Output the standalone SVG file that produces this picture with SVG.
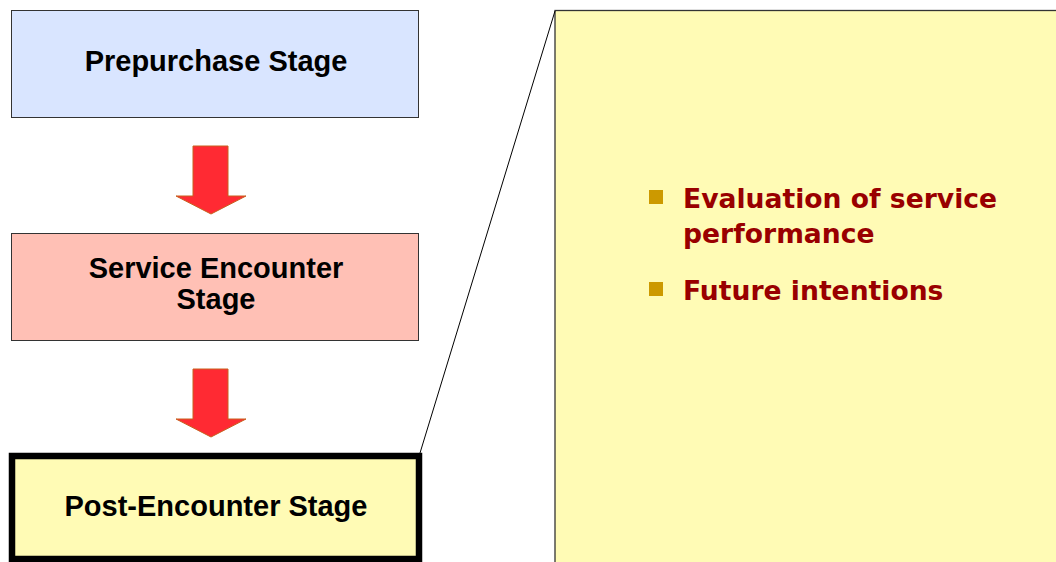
<svg xmlns="http://www.w3.org/2000/svg" width="1056" height="562" viewBox="0 0 1056 562">
<style>
.stage{font-family:"Liberation Sans",Arial,sans-serif;font-weight:bold;font-size:29px;fill:#000;text-anchor:middle}
.bullet-text{font-family:"DejaVu Sans",Verdana,sans-serif;font-weight:bold;font-size:26.6px;fill:#990000}
.bullet{fill:#CC9900}
.arrow{fill:#FF2A33;stroke:#C8601E;stroke-width:1}
.box{stroke:#333;stroke-width:1}
</style>
<rect x="0" y="0" width="1056" height="562" fill="#FFFFFF"/>
<g id="detail-panel">
<rect x="555" y="10.5" width="520" height="570" fill="#FFFBB5" stroke="#333" stroke-width="1.3"/>
<rect class="bullet" x="649" y="190" width="14" height="14"/>
<text class="bullet-text" x="683" y="208">Evaluation of service</text>
<text class="bullet-text" x="683" y="243">performance</text>
<rect class="bullet" x="649" y="282" width="14" height="14"/>
<text class="bullet-text" x="683" y="300">Future intentions</text>
</g>
<g id="connectors">
<line x1="555" y1="11" x2="420" y2="453" stroke="#000" stroke-width="1"/>
<polygon class="arrow" points="193,146 228,146 228,196 246,196 211,214 176,196 193,196"/>
<polygon class="arrow" points="193,369 228,369 228,419 246,419 211,437 176,419 193,419"/>
</g>
<g id="prepurchase">
<rect class="box" x="11.5" y="10.5" width="407" height="107" fill="#D9E5FF"/>
<text class="stage" x="216" y="71">Prepurchase Stage</text>
</g>
<g id="service-encounter">
<rect class="box" x="11.5" y="233.5" width="407" height="107" fill="#FFC0B5"/>
<text class="stage" x="216" y="278">Service Encounter</text>
<text class="stage" x="216" y="309">Stage</text>
</g>
<g id="post-encounter">
<rect x="12" y="456" width="407" height="103" fill="#FFFBB5" stroke="#000" stroke-width="6.5"/>
<text class="stage" x="216" y="516">Post-Encounter Stage</text>
</g>
</svg>
